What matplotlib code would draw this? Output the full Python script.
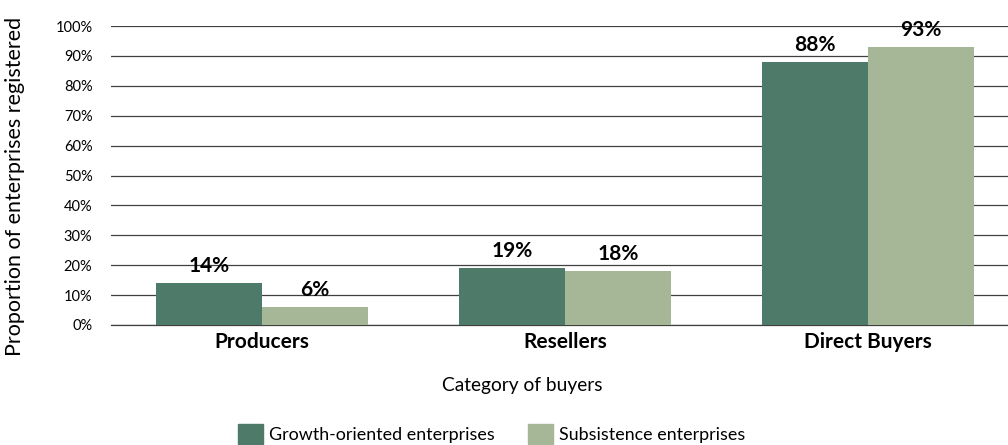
import numpy as np
import matplotlib.pyplot as plt
from matplotlib.patches import Patch

plt.rcParams['font.family'] = ['Lato', 'DejaVu Sans']

categories = ['Producers', 'Resellers', 'Direct Buyers']
growth = [14, 19, 88]
subsistence = [6, 18, 93]
series_names = ['Growth-oriented enterprises', 'Subsistence enterprises']
colors = ['#4e7a69', '#a5b797']

fig = plt.figure(figsize=(10.08, 4.45), dpi=100)
ax = fig.add_axes([110.5 / 1008, 120 / 445, 909 / 1008, 299 / 445])

x = np.arange(len(categories))
w = 0.35
b1 = ax.bar(x - w / 2, growth, w, color=colors[0], zorder=3)
b2 = ax.bar(x + w / 2, subsistence, w, color=colors[1], zorder=3)

for bars, vals in [(b1, growth), (b2, subsistence)]:
    for r, v in zip(bars, vals):
        ax.text(r.get_x() + r.get_width() / 2, v + 2.4, f'{v}%',
                ha='center', va='bottom', fontsize=15, fontweight='bold')

ax.set_xlim(-0.5, 2.5)
ax.set_ylim(0, 100)
ax.set_yticks(range(0, 101, 10))
ax.set_yticklabels([f'{t}%' for t in range(0, 101, 10)], fontsize=10.5)
ax.set_xticks(x)
ax.set_xticklabels(categories, fontsize=15, fontweight='bold')
ax.tick_params(length=0)
ax.tick_params(axis='y', pad=13)
ax.tick_params(axis='x', pad=5)

ax.yaxis.grid(True, color='#404040', linewidth=0.9, zorder=0)
for s in ['left', 'right', 'top']:
    ax.spines[s].set_visible(False)
ax.spines['bottom'].set_color('#404040')
ax.spines['bottom'].set_linewidth(0.9)

ax.set_xlabel('Category of buyers', fontsize=13.8)
ax.xaxis.set_label_coords(0.4527, -52 / 299)
ax.set_ylabel('Proportion of enterprises registered', fontsize=15.5)
ax.yaxis.set_label_coords(-85 / 909, 0.463)

handles = [Patch(color=c) for c in colors]
fig.legend(handles, series_names, loc='lower center', ncol=2, frameon=False,
           fontsize=12.9, bbox_to_anchor=(0.488, -0.035), handlelength=1.4,
           handleheight=1.4, handletextpad=0.33, columnspacing=1.85)

fig.savefig('out.png', dpi=100)
